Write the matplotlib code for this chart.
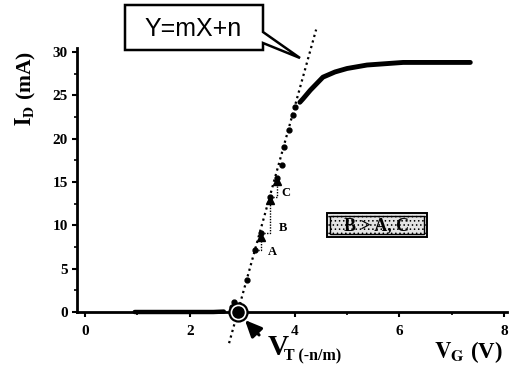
import numpy as np
import matplotlib
matplotlib.use("Agg")
import matplotlib.pyplot as plt
from matplotlib.patches import Polygon, Rectangle, FancyArrowPatch
from matplotlib.ticker import MultipleLocator

plt.rcParams['font.family'] = 'Liberation Serif'
plt.rcParams['mathtext.fontset'] = 'stix'
plt.rcParams['hatch.color'] = '#8a8a8a'
plt.rcParams['hatch.linewidth'] = 0.6

# measured transfer curve I_D(V_G)
vg_off = [0.95, 1.3, 1.7, 2.1, 2.45, 2.65]
id_off = [0.0, 0.0, 0.0, 0.0, 0.0, 0.05]
vg_rise = [2.80, 2.85, 3.10, 3.25, 3.36, 3.53, 3.66, 3.76, 3.80, 3.90, 3.97, 4.01]
id_rise = [0.6, 1.2, 3.7, 7.2, 9.1, 13.3, 15.5, 17.0, 19.0, 21.0, 22.7, 23.6]
vg_sat = [4.10, 4.16, 4.30, 4.54, 4.77, 5.00, 5.38, 6.07, 6.60, 7.35]
id_sat = [24.2, 24.6, 25.6, 27.1, 27.7, 28.1, 28.5, 28.8, 28.8, 28.8]

# linear fit Y = mX + n
m_fit = 21.8
vt = 2.915
fit_x = [2.75, 4.41]

# step points A, B, C
step_x = [3.25, 3.36, 3.53, 3.66]
step_y = [7.2, 9.1, 13.3, 15.5]

W, H = 513, 372


def px(x, y):
    return (x / W, 1 - y / H)


fig = plt.figure(figsize=(W / 100, H / 100), dpi=100)
ax = fig.add_axes([77 / W, 60 / H, 430 / W, 264.3 / H])

ax.set_xlim(-0.15, 8.05)
ax.set_ylim(0, 30.5)

# fit line (dotted, runs past the axes)
fx = np.array(fit_x)
ax.plot(fx, m_fit * (fx - vt), color='black', lw=1.6,
        linestyle=(0, (1, 1.6)), clip_on=False, zorder=3)

ax.plot(vg_off, id_off, color='black', lw=3.2, solid_capstyle='round',
        clip_on=False, zorder=4)
ax.plot(vg_rise, id_rise, 'o', color='black', ms=3.5, clip_on=False, zorder=4)
ax.plot(vg_sat, id_sat, color='black', lw=3.5, solid_capstyle='round', zorder=4)

# staircase A, B, C
for i in range(3):
    x0, y0 = step_x[i], step_y[i]
    x1, y1 = step_x[i + 1], step_y[i + 1]
    ax.plot([x0, x1, x1], [y0, y0, y1], color='black', lw=1.0,
            linestyle=(0, (1, 1)), zorder=4)
    ax.plot(x1, y1 - 0.4, '^', color='black', ms=6, zorder=5)
ax.text(3.58, 6.9, 'A', fontsize=9, fontweight='bold', ha='center', va='center')
ax.text(3.77, 9.7, 'B', fontsize=9, fontweight='bold', ha='center', va='center')
ax.text(3.84, 13.7, 'C', fontsize=9, fontweight='bold', ha='center', va='center')

# threshold marker
ax.plot(vt, 0, 'o', ms=13, mfc='white', mec='black', mew=1.6, clip_on=False, zorder=6)
ax.plot(vt, 0, 'o', ms=8, color='black', clip_on=False, zorder=7)

# axes styling
for s in ['top', 'right']:
    ax.spines[s].set_visible(False)
for s in ['left', 'bottom']:
    ax.spines[s].set_linewidth(2)
ax.xaxis.set_major_locator(MultipleLocator(2))
ax.xaxis.set_minor_locator(MultipleLocator(1))
ax.yaxis.set_major_locator(MultipleLocator(5))
ax.yaxis.set_minor_locator(MultipleLocator(2.5))
ax.tick_params(which='major', direction='out', length=3.5, width=1.5,
               labelsize=11, pad=3)
ax.tick_params(axis='x', which='major', pad=6)
ax.tick_params(which='minor', direction='out', length=2.5, width=1.2)
for lab in ax.get_xticklabels() + ax.get_yticklabels():
    lab.set_fontweight('bold')

# axis labels
fig.text(*px(26, 89), r'$\mathbf{I_D}$ (mA)', rotation=90, fontsize=15.5,
         fontweight='bold', ha='center', va='center')
fig.text(*px(434, 358), r'$\mathbf{V_G}$ (V)', fontsize=16.5,
         fontweight='bold', ha='left', va='baseline')

# V_T label
fig.text(*px(268, 355), 'V', fontsize=21, fontweight='bold', ha='left', va='baseline')
fig.text(*px(284, 360), 'T (-n/m)', fontsize=11.5, fontweight='bold',
         ha='left', va='baseline')
arr = FancyArrowPatch(px(261, 337), px(243, 318), transform=fig.transFigure,
                      arrowstyle='-|>,head_length=10,head_width=4.5',
                      color='black', lw=2.2, mutation_scale=1)
fig.patches.append(arr)

# callout box
pts = [(125, 5), (263, 5), (263, 32), (300, 58), (263, 43), (263, 50), (125, 50)]
fig.patches.append(Polygon([px(*p) for p in pts], closed=True, facecolor='white',
                           edgecolor='black', lw=1.8, transform=fig.transFigure,
                           joinstyle='miter'))
fig.text(*px(193, 29), 'Y=mX+n', family='Liberation Sans', fontsize=18,
         ha='center', va='center')

# B > A, C box
bx0, by0, bx1, by1 = 327, 213, 427, 237
outer = Rectangle(px(bx0, by1), (bx1 - bx0) / W, (by1 - by0) / H,
                  transform=fig.transFigure, facecolor='#e4e4e4', edgecolor='black',
                  lw=1.4, hatch='....')
inner = Rectangle(px(bx0 + 3, by1 - 3), (bx1 - bx0 - 6) / W, (by1 - by0 - 6) / H,
                  transform=fig.transFigure, facecolor='none', edgecolor='black',
                  lw=1.0)
fig.patches.extend([outer, inner])
fig.text(*px((bx0 + bx1) / 2, (by0 + by1) / 2 + 1), 'B > A, C', fontsize=13,
         fontweight='bold', ha='center', va='center')

fig.savefig('out.png', dpi=100)
